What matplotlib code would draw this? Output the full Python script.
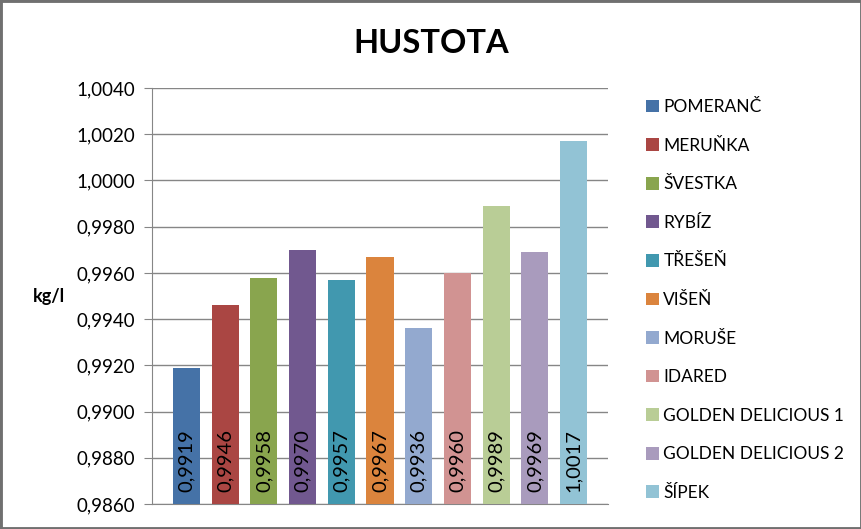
import matplotlib.pyplot as plt
from matplotlib.patches import Rectangle

plt.rcParams['font.family'] = ['Lato', 'DejaVu Sans']

categories = ['POMERANČ', 'MERUŇKA', 'ŠVESTKA', 'RYBÍZ', 'TŘEŠEŇ', 'VIŠEŇ',
              'MORUŠE', 'IDARED', 'GOLDEN DELICIOUS 1', 'GOLDEN DELICIOUS 2', 'ŠÍPEK']
values = [0.9919, 0.9946, 0.9958, 0.9970, 0.9957, 0.9967,
          0.9936, 0.9960, 0.9989, 0.9969, 1.0017]
colors = ['#4572A7', '#AA4643', '#89A54E', '#71588F', '#4198AF', '#DB843D',
          '#93A9CF', '#D19392', '#B9CD96', '#A99BBD', '#92C3D5']
yticks = [0.9860, 0.9880, 0.9900, 0.9920, 0.9940, 0.9960, 0.9980,
          1.0000, 1.0020, 1.0040]

fig = plt.figure(figsize=(8.62, 5.29), dpi=100)
ax = fig.add_axes([0.1763, 0.0473, 0.7053 - 0.1763, 0.8336 - 0.0473])

ymin = yticks[0]
for i, (cat, v, c) in enumerate(zip(categories, values, colors)):
    ax.bar(i, v - ymin, bottom=ymin, width=0.7, color=c, label=cat, zorder=3)
    ax.text(i, ymin + 0.0005, f'{v:.4f}'.replace('.', ','), rotation=90,
            ha='center', va='bottom', fontsize=14.5, color='black', zorder=4)

ax.set_xlim(-0.89, len(values) - 1 + 0.89)
ax.set_ylim(yticks[0], yticks[-1])
ax.set_yticks(yticks)
ax.set_yticklabels([f'{t:.4f}'.replace('.', ',') for t in yticks], fontsize=13.5)
ax.set_xticks([])
ax.yaxis.grid(True, color='#868686', lw=1, zorder=0)
ax.tick_params(axis='y', length=6, color='#868686', pad=6)
for s in ['top', 'right']:
    ax.spines[s].set_visible(False)
for s in ['left', 'bottom']:
    ax.spines[s].set_color('#868686')

ax.set_ylabel('kg/l', fontsize=13, fontweight='bold', rotation=0, labelpad=20, va='center')

fig.text(0.5, 0.917, 'HUSTOTA', ha='center', va='center', fontsize=23.5, fontweight='bold')

ax.legend(loc='upper left', bbox_to_anchor=(1.068, 0.99), frameon=False,
          fontsize=12.5, handlelength=0.75, handleheight=0.75, handletextpad=0.25,
          labelspacing=1.3, borderaxespad=0)

fig.patches.append(Rectangle((0, 0), 1, 1, transform=fig.transFigure, fill=False,
                             edgecolor='#707070', lw=3.5))

fig.savefig('out.png', dpi=100)
